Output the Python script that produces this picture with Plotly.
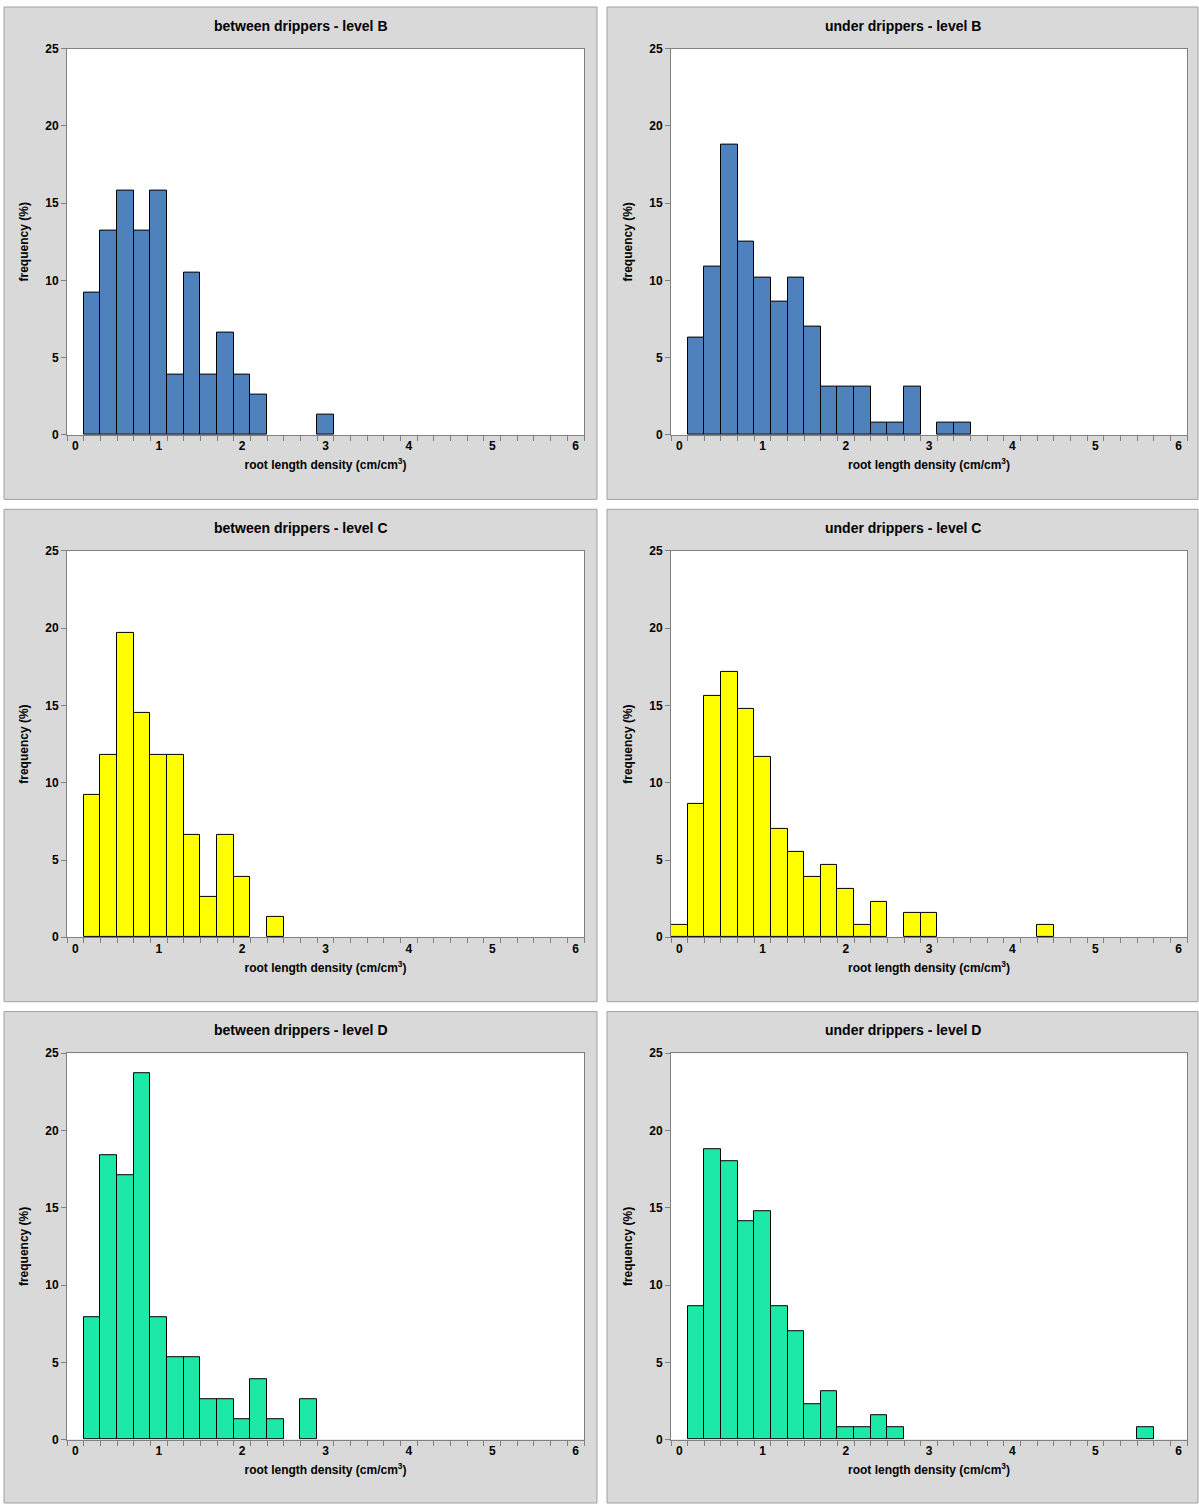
import plotly.graph_objects as go

W, H = 1199, 1510

# bin centres (cm/cm3) and frequencies (%)
x_bb = [0.2, 0.4, 0.6, 0.8, 1.0, 1.2, 1.4, 1.6, 1.8, 2.0, 2.2, 3.0]
f_bb = [9.2, 13.2, 15.8, 13.2, 15.8, 3.9, 10.5, 3.9, 6.6, 3.9, 2.6, 1.3]

x_ub = [0.2, 0.4, 0.6, 0.8, 1.0, 1.2, 1.4, 1.6, 1.8, 2.0, 2.2, 2.4, 2.6, 2.8, 3.2, 3.4]
f_ub = [6.3, 10.9, 18.8, 12.5, 10.2, 8.6, 10.2, 7.0, 3.1, 3.1, 3.1, 0.8, 0.8, 3.1, 0.8, 0.8]

x_bc = [0.2, 0.4, 0.6, 0.8, 1.0, 1.2, 1.4, 1.6, 1.8, 2.0, 2.4]
f_bc = [9.2, 11.8, 19.7, 14.5, 11.8, 11.8, 6.6, 2.6, 6.6, 3.9, 1.3]

x_uc = [0.0, 0.2, 0.4, 0.6, 0.8, 1.0, 1.2, 1.4, 1.6, 1.8, 2.0, 2.2, 2.4, 2.8, 3.0, 4.4]
f_uc = [0.8, 8.6, 15.6, 17.2, 14.8, 11.7, 7.0, 5.5, 3.9, 4.7, 3.1, 0.8, 2.3, 1.6, 1.6, 0.8]

x_bd = [0.2, 0.4, 0.6, 0.8, 1.0, 1.2, 1.4, 1.6, 1.8, 2.0, 2.2, 2.4, 2.8]
f_bd = [7.9, 18.4, 17.1, 23.7, 7.9, 5.3, 5.3, 2.6, 2.6, 1.3, 3.9, 1.3, 2.6]

x_ud = [0.2, 0.4, 0.6, 0.8, 1.0, 1.2, 1.4, 1.6, 1.8, 2.0, 2.2, 2.4, 2.6, 5.6]
f_ud = [8.6, 18.8, 18.0, 14.1, 14.8, 8.6, 7.0, 2.3, 3.1, 0.8, 0.8, 1.6, 0.8, 0.8]

titles = ["between drippers - level B", "under drippers - level B",
          "between drippers - level C", "under drippers - level C",
          "between drippers - level D", "under drippers - level D"]
colors = ["#4F81BD", "#4F81BD", "#FFFF00", "#FFFF00", "#1DE9A6", "#1DE9A6"]
series = [(x_bb, f_bb), (x_ub, f_ub), (x_bc, f_bc), (x_uc, f_uc), (x_bd, f_bd), (x_ud, f_ud)]

# panel boxes (pixels) and plot areas
panels_x = [(4, 597), (607, 1198)]
panels_y = [(0, 497), (507, 1004), (1014, 1510)]
plots_x = [(67, 584), (671, 1187)]
plots_y = [(42, 432), (549, 939), (1056, 1446)]

fig = go.Figure()
shapes, annots = [], []
font = dict(family="Liberation Sans, Arial", size=12, color="#000")
tfont = dict(family="Liberation Sans, Arial", size=12, color="#000", weight="bold")

for i in range(6):
    r, c = divmod(i, 2)
    n = i + 1
    xa = "x" if n == 1 else f"x{n}"
    ya = "y" if n == 1 else f"y{n}"
    px0, px1 = panels_x[c]
    py0, py1 = panels_y[r]
    ax0, ax1 = plots_x[c]
    ay0, ay1 = plots_y[r]
    shapes.append(dict(type="rect", xref="paper", yref="paper", layer="below",
                       x0=px0 / W, x1=px1 / W, y0=1 - py1 / H, y1=1 - py0 / H,
                       fillcolor="#D9D9D9", line=dict(color="#A0A0A0", width=1)))
    shapes.append(dict(type="rect", xref="paper", yref="paper", layer="below",
                       x0=ax0 / W, x1=ax1 / W, y0=1 - ay1 / H, y1=1 - ay0 / H,
                       fillcolor="white", line=dict(width=0)))
    fig.add_trace(go.Bar(x=series[i][0], y=series[i][1], width=0.2, xaxis=xa, yaxis=ya,
                         marker=dict(color=colors[i], line=dict(color="#000", width=1)),
                         showlegend=False))
    fig.layout[xa.replace("x", "xaxis")] = dict(
        domain=[ax0 / W, ax1 / W], anchor=ya, range=[-0.1, 6.1],
        tickvals=[0, 1, 2, 3, 4, 5, 6], ticks="", showgrid=False, zeroline=False,
        showline=True, linecolor="#808080", mirror=True, tickfont=tfont,
        minor=dict(tick0=0.1, dtick=0.2, ticks="outside", ticklen=5, tickcolor="#808080", showgrid=False),
        title=dict(text="<b>root length density (cm/cm<sup>3</sup>)</b>", font=font, standoff=8))
    fig.layout[ya.replace("y", "yaxis")] = dict(
        domain=[1 - ay1 / H, 1 - ay0 / H], anchor=xa, range=[0, 25],
        tickvals=[0, 5, 10, 15, 20, 25], ticks="outside", ticklen=5, tickcolor="#808080",
        showgrid=False, zeroline=False, showline=True, linecolor="#808080", mirror=True,
        tickfont=tfont,
        title=dict(text="<b>frequency (%)</b>", font=font, standoff=14))
    annots.append(dict(text="<b>" + titles[i] + "</b>", xref="paper", yref="paper",
                       x=(px0 + px1) / 2 / W, y=1 - (py0 + 19) / H, showarrow=False,
                       xanchor="center", yanchor="middle",
                       font=dict(family="Liberation Sans, Arial", size=14, color="#000")))

fig.update_layout(width=W, height=H, margin=dict(l=0, r=0, t=0, b=0),
                  paper_bgcolor="white", plot_bgcolor="rgba(0,0,0,0)", bargap=0,
                  shapes=shapes, annotations=annots)
fig.write_html("out.html", config={"displayModeBar": False},
               post_script="document.body.style.margin='0';")
